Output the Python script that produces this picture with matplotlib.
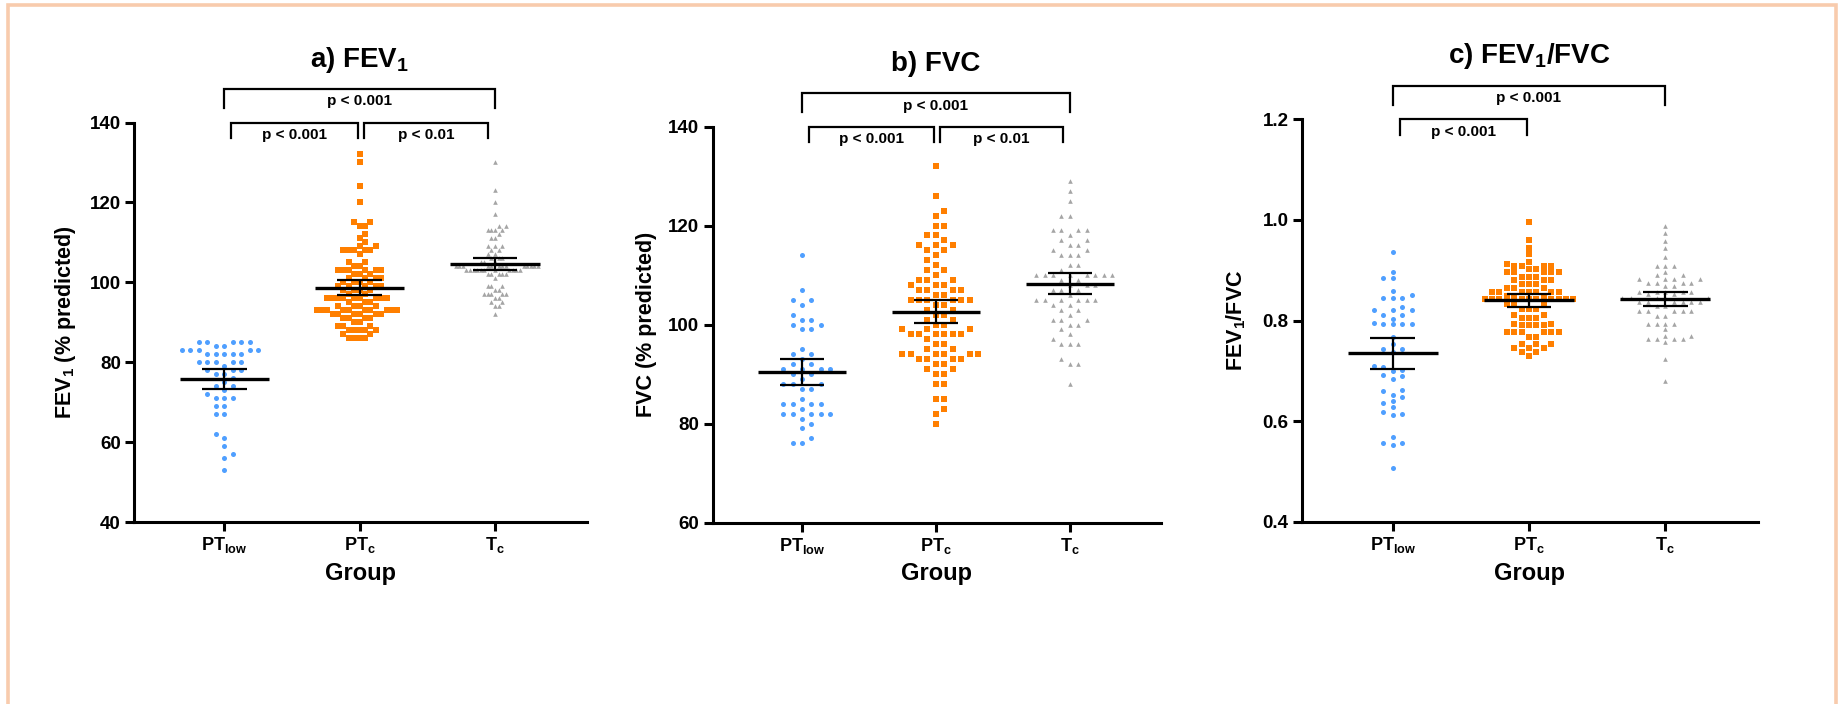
import numpy as np
import matplotlib
matplotlib.use("Agg")
from matplotlib import pyplot as plt
from matplotlib.patches import Rectangle
from matplotlib.transforms import blended_transform_factory

plt.rcParams['font.family'] = 'Liberation Sans'
plt.rcParams['font.weight'] = 'bold'
plt.rcParams['mathtext.fontset'] = 'custom'
plt.rcParams['mathtext.rm'] = 'Liberation Sans'
plt.rcParams['mathtext.bf'] = 'Liberation Sans:bold'
plt.rcParams['mathtext.it'] = 'Liberation Sans:italic'

groups = [r'PT$_\mathrm{low}$', r'PT$_\mathrm{c}$', r'T$_\mathrm{c}$']
colors = ['#4F9FFF', '#FF7F00', '#A5A5A5']
markers = ['o', 's', '^']
msizes = [13, 14, 11]

# a) FEV1, % predicted
fev1_ptlow = [85, 85, 85, 85, 85, 84, 84, 83, 83, 83, 83, 83, 82, 82, 82, 82, 82,
              80, 80, 80, 80, 80, 79, 78, 78, 78, 77, 77, 76, 75, 74, 74, 73, 72,
              71, 71, 71, 69, 69, 67, 67, 62, 61, 59, 57, 56, 53]
fev1_ptc = [132, 130, 124, 120, 115, 115, 114, 114, 112, 111, 110, 109, 109,
            108, 108, 108, 108, 108, 107, 105, 105, 104, 104,
            103, 103, 103, 103, 103, 103, 102, 102, 102, 101, 101, 101, 101,
            100, 100, 100, 100, 99, 99, 99, 99, 99, 98, 98, 98, 98, 97, 97,
            96, 96, 96, 96, 96, 96, 96, 96, 96, 95, 95, 95, 94, 94, 94, 94,
            93, 93, 93, 93, 93, 93, 93, 93, 93, 93, 92, 92, 92, 92, 92, 92,
            91, 91, 91, 91, 90, 90, 89, 89, 89, 88, 88, 88, 88, 88, 87, 87,
            86, 86, 86, 86]
fev1_tc = [130, 123, 120, 117, 114, 114, 113, 113, 113, 113, 112, 111, 111,
           109, 109, 109, 108, 108, 107, 107, 106, 106, 106, 105, 105, 105,
           104, 104, 104, 104, 104, 104, 104, 104, 104, 104, 104, 104, 104,
           103, 103, 103, 103, 103, 103, 103, 103, 103, 103, 103,
           102, 102, 102, 102, 102, 101, 99, 99, 99, 98, 98,
           97, 97, 97, 97, 97, 96, 96, 95, 95, 94, 94, 92]

# b) FVC, % predicted
fvc_ptlow = [114, 107, 105, 105, 104, 102, 101, 101, 100, 100, 99, 99, 95, 94, 94,
             93, 92, 92, 91, 91, 91, 91, 90, 90, 89, 88, 88, 88, 87, 87, 85,
             84, 84, 84, 84, 83, 82, 82, 82, 82, 82, 81, 80, 79, 77, 76, 76]
fvc_ptc = [132, 126, 123, 122, 120, 120, 118, 118, 117, 116, 116, 116, 115, 115,
           114, 113, 112, 111, 111, 110, 109, 109, 109, 108, 108, 108,
           107, 107, 107, 107, 106, 106, 105, 105, 105, 105, 105, 105, 104, 104,
           103, 103, 102, 102, 101, 101, 100, 100, 99, 99, 99,
           98, 98, 98, 98, 98, 98, 97, 96, 96, 95, 95, 94, 94, 94, 94, 94, 94,
           93, 93, 93, 93, 92, 92, 91, 91, 90, 90, 88, 88, 85, 85, 83, 82, 80]
fvc_tc = [129, 127, 125, 122, 122, 119, 119, 119, 119, 118, 117, 117, 116, 116,
          115, 115, 114, 114, 114, 112, 112, 111, 110, 110, 110, 110, 110, 110,
          110, 110, 109, 109, 108, 108, 108, 107, 107, 107, 106,
          105, 105, 105, 105, 105, 105, 104, 104, 103, 103, 102, 101, 101, 101,
          100, 100, 99, 98, 97, 96, 96, 96, 93, 92, 92, 88]

# c) FEV1/FVC ratio
ratio_ptlow = [0.937, 0.896, 0.885, 0.885, 0.858, 0.850, 0.844, 0.844, 0.844,
               0.826, 0.820, 0.820, 0.820, 0.811, 0.811, 0.804, 0.795, 0.793,
               0.793, 0.793, 0.793, 0.767, 0.754, 0.744, 0.744, 0.737, 0.709,
               0.707, 0.702, 0.699, 0.692, 0.690, 0.683, 0.661, 0.659, 0.652,
               0.647, 0.640, 0.637, 0.629, 0.618, 0.615, 0.612, 0.568, 0.556,
               0.556, 0.552, 0.507]
ratio_ptc = [0.996, 0.960, 0.945, 0.932, 0.917, 0.912, 0.909, 0.909, 0.909, 0.909,
             0.903, 0.903, 0.897, 0.897, 0.897, 0.897, 0.897, 0.887, 0.887, 0.887,
             0.881, 0.881, 0.881, 0.872, 0.872, 0.872, 0.864, 0.864, 0.864,
             0.856, 0.856, 0.856, 0.856, 0.856, 0.856, 0.856, 0.848, 0.848, 0.848,
             0.842, 0.842, 0.842, 0.842, 0.842, 0.842, 0.842, 0.842, 0.842, 0.842,
             0.832, 0.832, 0.832, 0.823, 0.823, 0.823, 0.811, 0.811,
             0.806, 0.806, 0.806, 0.794, 0.794, 0.791, 0.791, 0.791, 0.791,
             0.777, 0.777, 0.777, 0.777, 0.777, 0.777, 0.767, 0.767,
             0.754, 0.754, 0.754, 0.746, 0.746, 0.746, 0.738, 0.738, 0.730]
ratio_tc = [0.988, 0.974, 0.958, 0.945, 0.927, 0.909, 0.909, 0.909, 0.897,
            0.891, 0.891, 0.883, 0.883, 0.883, 0.883, 0.874, 0.874, 0.874, 0.874,
            0.868, 0.868, 0.857, 0.857, 0.857, 0.857, 0.857, 0.852, 0.852,
            0.844, 0.844, 0.844, 0.844, 0.844, 0.836, 0.836, 0.836, 0.836, 0.836,
            0.836, 0.828, 0.828, 0.818, 0.818, 0.818, 0.818, 0.818, 0.809, 0.809,
            0.794, 0.794, 0.794, 0.794, 0.783, 0.769, 0.769, 0.763, 0.763, 0.763,
            0.763, 0.758, 0.724, 0.679]

panels = [
    dict(title=r'a) FEV$_\mathbf{1}$', ylabel=r'FEV$_\mathbf{1}$ (% predicted)',
         data=[fev1_ptlow, fev1_ptc, fev1_tc], ylim=(40, 140), yticks=[40, 60, 80, 100, 120, 140],
         fmt='{:.0f}',
         pairs=[(0, 2, 'p < 0.001', 'top'), (0, 1, 'p < 0.001', 'low'), (1, 2, 'p < 0.01', 'low')],
         rect=[0.07287, 0.25852, 0.24633, 0.56747], ylab_x=-0.152),
    dict(title='b) FVC', ylabel='FVC (% predicted)',
         data=[fvc_ptlow, fvc_ptc, fvc_tc], ylim=(60, 140), yticks=[60, 80, 100, 120, 140],
         fmt='{:.0f}',
         pairs=[(0, 2, 'p < 0.001', 'top'), (0, 1, 'p < 0.001', 'low'), (1, 2, 'p < 0.01', 'low')],
         rect=[0.38749, 0.25781, 0.24383, 0.56250], ylab_x=-0.147),
    dict(title=r'c) FEV$_\mathbf{1}$/FVC', ylabel=r'FEV$_\mathbf{1}$/FVC',
         data=[ratio_ptlow, ratio_ptc, ratio_tc], ylim=(0.4, 1.2), yticks=[0.4, 0.6, 0.8, 1.0, 1.2],
         fmt='{:.1f}',
         pairs=[(0, 2, 'p < 0.001', 'top'), (0, 1, 'p < 0.001', 'low')],
         rect=[0.70788, 0.25895, 0.24806, 0.57145], ylab_x=-0.143),
]

FIG_W, FIG_H = 1839, 704


def swarm_offsets(values, px_per_unit, hy=5.5, d0=0.07, max_half=0.33):
    # greedy beeswarm on a half-step grid; points closer than hy pixels
    # vertically must be at least d apart horizontally
    y = np.asarray(values, float) * px_per_unit
    order = np.argsort(y, kind='stable')
    d = d0
    while True:
        off = np.zeros(len(y))
        placed = []
        for n, idx in enumerate(order):
            near = [off[j] for j in placed if abs(y[j] - y[idx]) < hy]
            k = 0
            while True:
                if k == 0:
                    cands = [0.0]
                elif n % 2 == 0:
                    cands = [k * d / 2, -k * d / 2]
                else:
                    cands = [-k * d / 2, k * d / 2]
                ok = [c for c in cands if all(abs(c - xo) >= d - 1e-9 for xo in near)]
                if ok:
                    off[idx] = ok[0]
                    break
                k += 1
            placed.append(idx)
        if np.abs(off).max() <= max_half or d < 0.02:
            return off
        d *= 0.95


fig = plt.figure(figsize=(FIG_W / 100, FIG_H / 100), dpi=100)
fig.patches.append(Rectangle((8 / FIG_W, -0.05), (1836 - 8) / FIG_W, 1.05 - 5 / FIG_H,
                             transform=fig.transFigure, fill=False,
                             edgecolor='#F8CBAD', linewidth=2.6))

for p in panels:
    ax = fig.add_axes(p['rect'])
    lo, hi = p['ylim']
    px_per_unit = p['rect'][3] * FIG_H / (hi - lo)
    for i, vals in enumerate(p['data']):
        vals = np.asarray(vals, float)
        x = i + swarm_offsets(vals, px_per_unit)
        ax.scatter(x, vals, s=msizes[i], marker=markers[i], color=colors[i],
                   linewidths=0, zorder=2)
        mean = vals.mean()
        ci = 1.96 * vals.std(ddof=1) / np.sqrt(len(vals))
        ax.hlines(mean, i - 0.33, i + 0.33, color='black', lw=2.4, zorder=3)
        ax.hlines([mean - ci, mean + ci], i - 0.165, i + 0.165, color='black', lw=1.6, zorder=3)
        ax.vlines(i, mean - ci, mean + ci, color='black', lw=1.6, zorder=3)

    ax.set_xlim(-0.667, 2.68)
    ax.set_ylim(lo, hi)
    ax.set_yticks(p['yticks'])
    ax.set_yticklabels([p['fmt'].format(t) for t in p['yticks']], fontsize=13.5, fontweight='bold')
    ax.set_xticks([0, 1, 2])
    ax.set_xticklabels(groups, fontsize=13, fontweight='bold')
    for side in ['top', 'right']:
        ax.spines[side].set_visible(False)
    for side in ['left', 'bottom']:
        ax.spines[side].set_linewidth(2.2)
    ax.tick_params(axis='both', width=2.2, length=6.5, pad=3)

    ax.set_ylabel(p['ylabel'], fontsize=15.5, fontweight='bold', va='center')
    ax.yaxis.set_label_coords(p['ylab_x'], 0.5)
    ax.set_xlabel('Group', fontsize=17, fontweight='bold', va='center')
    ax.xaxis.set_label_coords(0.5, -0.13)

    trans = blended_transform_factory(ax.transData, ax.transAxes)
    ax.text(1, 1.157, p['title'], transform=trans, ha='center', va='center',
            fontsize=20, fontweight='bold')

    # significance brackets
    for i, j, label, level in p['pairs']:
        if level == 'top':
            x0, x1, yb, yl, yt = i, j, 1.084, 1.036, 1.053
        else:
            x0 = i + 0.05 if i == 0 else i + 0.03
            x1 = j - 0.05 if j == 2 else j - 0.015
            yb, yl, yt = 1.0, 0.96, 0.969
        ax.plot([x0, x0, x1, x1], [yl, yb, yb, yl], color='black', lw=1.6,
                transform=trans, clip_on=False, solid_joinstyle='miter')
        ax.text((x0 + x1) / 2, yt, label, transform=trans, ha='center', va='center',
                fontsize=11, fontweight='bold')

fig.savefig('out.png', dpi=100)
